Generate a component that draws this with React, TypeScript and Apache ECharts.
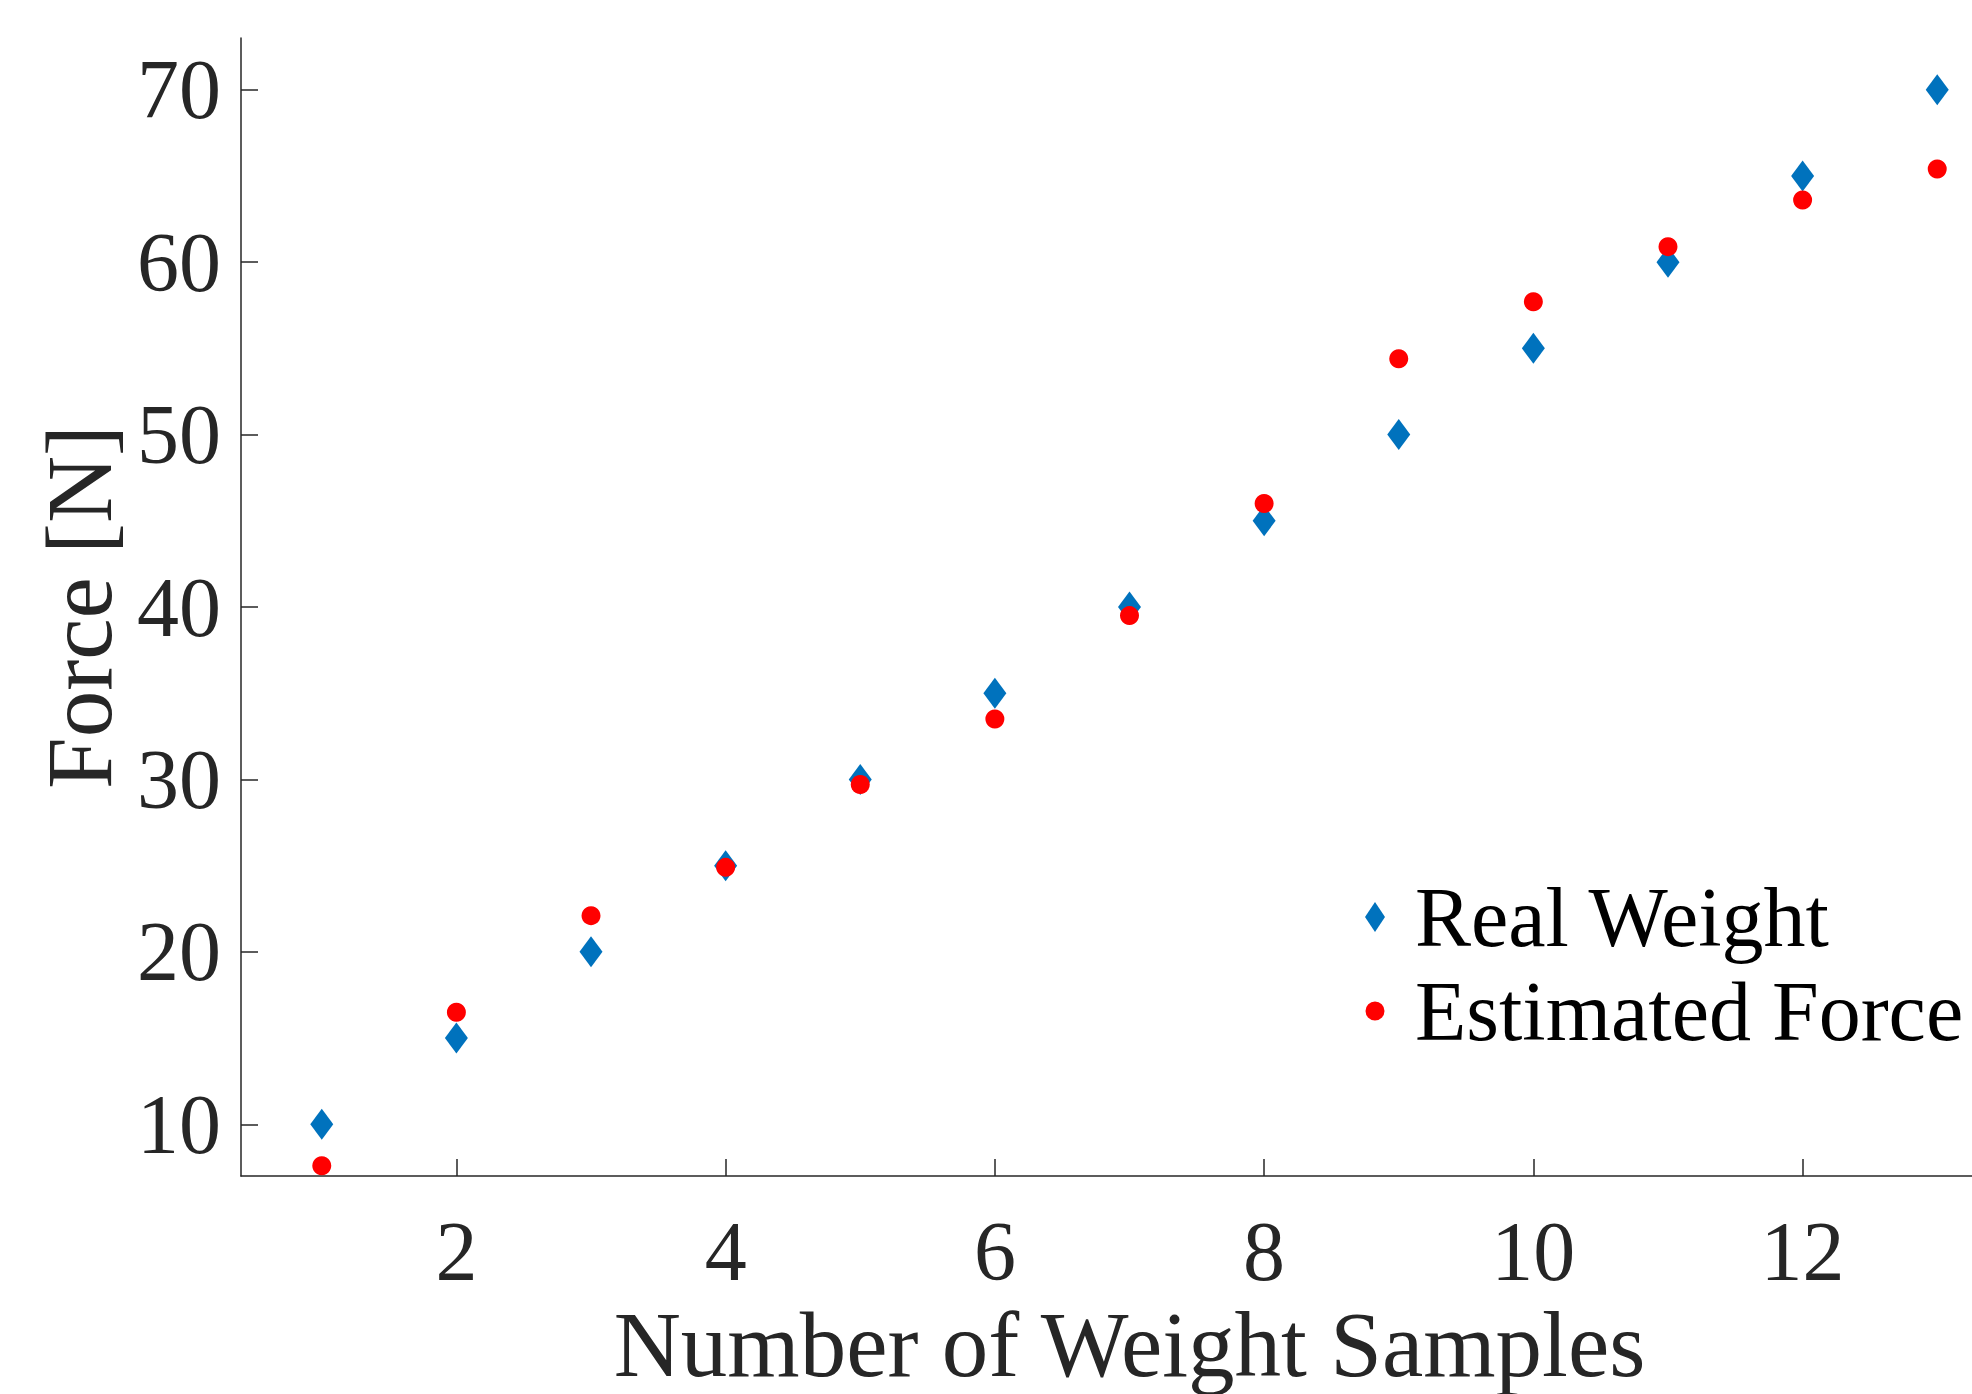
import React, { useEffect, useRef } from "react";
import * as echarts from "echarts";

const sampleIndex = [1, 2, 3, 4, 5, 6, 7, 8, 9, 10, 11, 12, 13];
const realWeight = [10, 15, 20, 25, 30, 35, 40, 45, 50, 55, 60, 65, 70];
const estimatedForce = [7.6, 16.5, 22.1, 24.9, 29.7, 33.5, 39.5, 46.0, 54.4, 57.7, 60.9, 63.6, 65.4];
const xTicks = [2, 4, 6, 8, 10, 12];
const yTicks = [10, 20, 30, 40, 50, 60, 70];
const seriesNames = ["Real Weight", "Estimated Force"];
const xTitle = "Number of Weight Samples";
const yTitle = "Force [N]";

const FONT = "'Liberation Serif', 'Times New Roman', serif";
const AXIS_COLOR = "#262626";

export default function App() {
  const ref = useRef<HTMLDivElement>(null);

  useEffect(() => {
    document.body.style.margin = "0";
    if (!ref.current) return;
    const chart = echarts.init(ref.current, undefined, { renderer: "svg" });
    const axisLineStyle = { color: AXIS_COLOR, width: 1.5 };
    const option = {
      animation: false,
      backgroundColor: "#ffffff",
      grid: {
        left: 241,
        top: 38,
        width: 1777,
        height: 1138,
        containLabel: false,
        outerBoundsMode: "none",
      },
      xAxis: {
        type: "value",
        min: 0.4,
        max: 13.6,
        name: xTitle,
        nameLocation: "middle",
        nameGap: 120,
        nameTextStyle: { fontFamily: FONT, fontSize: 93, color: AXIS_COLOR },
        axisLine: { show: true, onZero: false, lineStyle: axisLineStyle },
        axisTick: { show: true, inside: true, length: 17, customValues: xTicks, lineStyle: axisLineStyle },
        axisLabel: { customValues: xTicks, margin: 33, fontFamily: FONT, fontSize: 84, color: AXIS_COLOR },
        splitLine: { show: false },
      },
      yAxis: {
        type: "value",
        min: 7,
        max: 73,
        name: yTitle,
        nameLocation: "middle",
        nameGap: 112,
        nameTextStyle: { fontFamily: FONT, fontSize: 93, color: AXIS_COLOR },
        axisLine: { show: true, onZero: false, lineStyle: axisLineStyle },
        axisTick: { show: true, inside: true, length: 17, customValues: yTicks, lineStyle: axisLineStyle },
        axisLabel: { customValues: yTicks, margin: 20, fontFamily: FONT, fontSize: 84, color: AXIS_COLOR },
        splitLine: { show: false },
      },
      legend: {
        orient: "vertical",
        left: 1365,
        top: 870,
        padding: 0,
        itemGap: 0,
        itemWidth: 70,
        itemHeight: 30,
        symbolKeepAspect: true,
        selectedMode: false,
        textStyle: { fontFamily: FONT, fontSize: 84, color: "#000000", lineHeight: 94 },
        data: [
          { name: seriesNames[0], icon: "path://M10,0L20,15L10,30L0,15Z" },
          {
            name: seriesNames[1],
            icon: "path://M0,15A9.5,9.5,0,1,1,19,15A9.5,9.5,0,1,1,0,15Z M9.5,0L9.5,0 M9.5,30L9.5,30",
          },
        ],
      },
      series: [
        {
          name: seriesNames[0],
          type: "scatter",
          symbol: "diamond",
          symbolSize: [23, 31],
          itemStyle: { color: "#0072BD", opacity: 1 },
          data: sampleIndex.map((x, i) => [x, realWeight[i]]),
        },
        {
          name: seriesNames[1],
          type: "scatter",
          symbol: "circle",
          symbolSize: 19,
          itemStyle: { color: "#FF0000", opacity: 1 },
          data: sampleIndex.map((x, i) => [x, estimatedForce[i]]),
        },
      ],
    };
    chart.setOption(option as any);
    return () => {
      chart.dispose();
    };
  }, []);

  return (
    <div style={{ width: 1972, height: 1394, overflow: "hidden", position: "relative", background: "#fff" }}>
      <div ref={ref} style={{ width: 2100, height: 1394 }} />
    </div>
  );
}
